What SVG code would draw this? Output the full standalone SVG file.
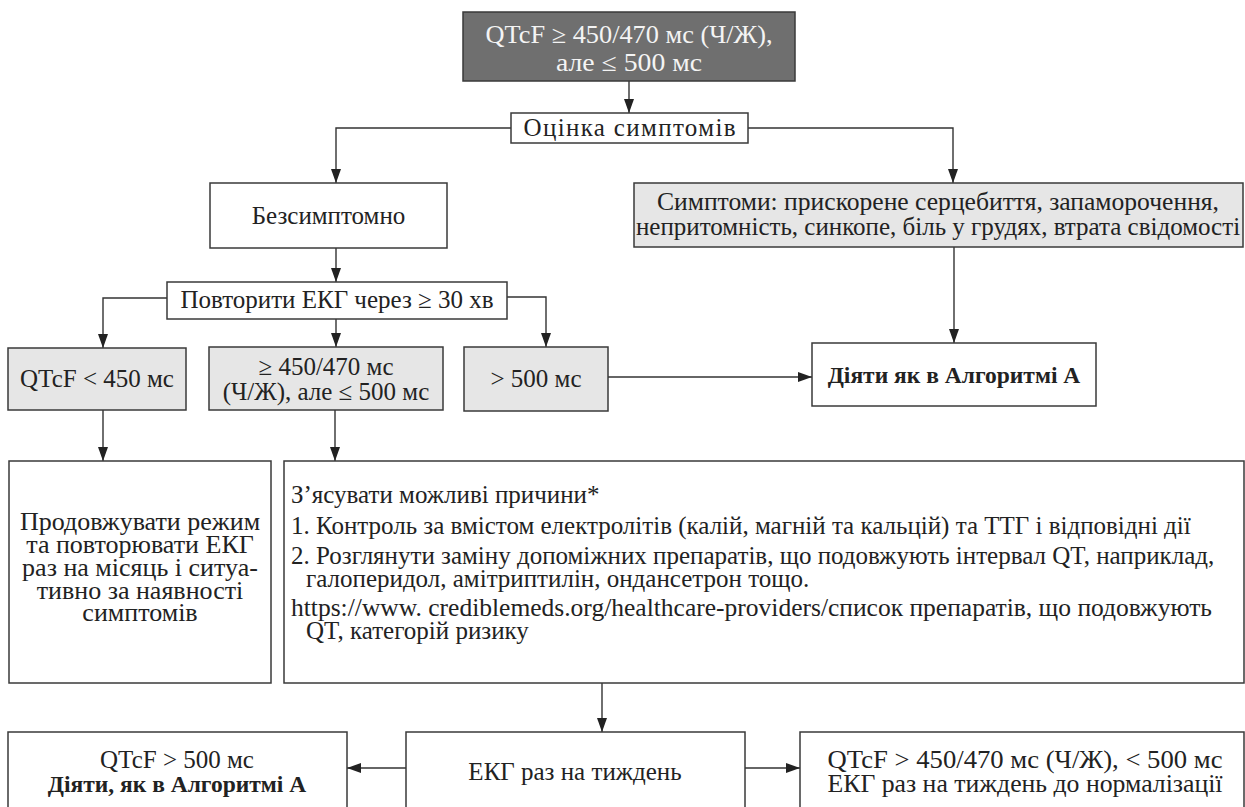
<svg xmlns="http://www.w3.org/2000/svg" width="1245" height="807" viewBox="0 0 1245 807">
<style>
.box{fill:#ffffff;stroke:#3a3a3a;stroke-width:1.5}
.gray{fill:#e6e6e6;stroke:#3a3a3a;stroke-width:1.5}
.dark{fill:#6f6f6f;stroke:#3a3a3a;stroke-width:1.5}
.t{font-family:'Liberation Serif','Times New Roman',serif;font-size:25px;fill:#222222}
.c{text-anchor:middle}
.w{fill:#f4f4f4}
.b{font-weight:bold;font-size:23.5px}
.l{font-size:26px}
.conn{fill:none;stroke:#333333;stroke-width:1.4}
</style>
<defs>
<marker id="ah" markerUnits="userSpaceOnUse" markerWidth="14" markerHeight="10" refX="14" refY="5" orient="auto">
<path d="M0,0 L14,5 L0,10 z" fill="#222222"/>
</marker>
</defs>
<rect width="1245" height="807" fill="#ffffff"/>
<g id="connectors">
<path class="conn" d="M629,81 V113" marker-end="url(#ah)"/>
<path class="conn" d="M511,128 H336 V183" marker-end="url(#ah)"/>
<path class="conn" d="M748,128 H953 V183" marker-end="url(#ah)"/>
<path class="conn" d="M336,248 V282" marker-end="url(#ah)"/>
<path class="conn" d="M167,298 H103 V348" marker-end="url(#ah)"/>
<path class="conn" d="M336,319 V347" marker-end="url(#ah)"/>
<path class="conn" d="M507,297 H546 V347" marker-end="url(#ah)"/>
<path class="conn" d="M954,247 V343" marker-end="url(#ah)"/>
<path class="conn" d="M608,377 H812" marker-end="url(#ah)"/>
<path class="conn" d="M103,410 V461" marker-end="url(#ah)"/>
<path class="conn" d="M335,410 V461" marker-end="url(#ah)"/>
<path class="conn" d="M602,683 V732" marker-end="url(#ah)"/>
<path class="conn" d="M406,768 H347" marker-end="url(#ah)"/>
<path class="conn" d="M745,768 H800" marker-end="url(#ah)"/>
</g>
<g id="n-top">
<rect class="dark" x="463" y="12" width="332" height="69"/>
<text class="t c w" x="629" y="43" textLength="287" lengthAdjust="spacingAndGlyphs">QTcF ≥ 450/470 мс (Ч/Ж),</text>
<text class="t c w" x="629" y="71" textLength="146" lengthAdjust="spacingAndGlyphs">але ≤ 500 мс</text>
</g>
<g id="n-assess">
<rect class="box" x="511" y="113" width="237" height="30"/>
<text class="t c" x="629.5" y="136" textLength="212" lengthAdjust="spacing">Оцінка симптомів</text>
</g>
<g id="n-asym">
<rect class="box" x="210" y="183" width="237" height="65"/>
<text class="t c" x="328.5" y="224">Безсимптомно</text>
</g>
<g id="n-symptoms">
<rect class="gray" x="634" y="183" width="609" height="64"/>
<text class="t c" x="938" y="210" textLength="562" lengthAdjust="spacingAndGlyphs">Симптоми: прискорене серцебиття, запаморочення,</text>
<text class="t c" x="938" y="235">непритомність, синкопе, біль у грудях, втрата свідомості</text>
</g>
<g id="n-repeat">
<rect class="box" x="167" y="282" width="340" height="37"/>
<text class="t c" x="337" y="308">Повторити ЕКГ через ≥ 30 хв</text>
</g>
<g id="n-lt450">
<rect class="gray" x="8" y="348" width="178" height="62"/>
<text class="t c" x="97" y="387">QTcF &lt; 450 мс</text>
</g>
<g id="n-mid">
<rect class="gray" x="209" y="347" width="234" height="63"/>
<text class="t c" x="326" y="375">≥ 450/470 мс</text>
<text class="t c" x="326" y="400">(Ч/Ж), але ≤ 500 мс</text>
</g>
<g id="n-gt500">
<rect class="gray" x="464" y="347" width="144" height="64"/>
<text class="t c" x="536" y="387">&gt; 500 мс</text>
</g>
<g id="n-algA">
<rect class="box" x="812" y="343" width="284" height="63"/>
<text class="t c b" x="954" y="383">Діяти як в Алгоритмі А</text>
</g>
<g id="n-continue">
<rect class="box" x="9" y="461" width="262" height="222"/>
<text class="t c l" x="140" y="530">Продовжувати режим</text>
<text class="t c l" x="140" y="553">та повторювати ЕКГ</text>
<text class="t c l" x="140" y="576">раз на місяць і ситуа-</text>
<text class="t c l" x="140" y="599">тивно за наявності</text>
<text class="t c l" x="140" y="621">симптомів</text>
</g>
<g id="n-causes">
<rect class="box" x="284" y="461" width="960" height="222"/>
<text class="t" x="291" y="503">З’ясувати можливі причини*</text>
<text class="t" x="291" y="534">1. Контроль за вмістом електролітів (калій, магній та кальцій) та ТТГ і відповідні дії</text>
<text class="t" x="291" y="564">2. Розглянути заміну допоміжних препаратів, що подовжують інтервал QT, наприклад,</text>
<text class="t" x="306" y="587">галоперидол, амітриптилін, ондансетрон тощо.</text>
<text class="t" x="291" y="616" textLength="921" lengthAdjust="spacingAndGlyphs">https://www. crediblemeds.org/healthcare-providers/список препаратів, що подовжують</text>
<text class="t" x="306" y="639">QT, категорій ризику</text>
</g>
<g id="n-gt500b">
<rect class="box" x="8" y="732" width="339" height="100"/>
<text class="t c" x="177" y="768">QTcF &gt; 500 мс</text>
<text class="t c b" x="177" y="792">Діяти, як в Алгоритмі А</text>
</g>
<g id="n-weekly">
<rect class="box" x="406" y="732" width="339" height="100"/>
<text class="t c" x="575" y="780">ЕКГ раз на тиждень</text>
</g>
<g id="n-norm">
<rect class="box" x="800" y="732" width="444" height="100"/>
<text class="t c" x="1025" y="768" textLength="395" lengthAdjust="spacingAndGlyphs">QTcF &gt; 450/470 мс (Ч/Ж), &lt; 500 мс</text>
<text class="t c" x="1025" y="792" textLength="395" lengthAdjust="spacingAndGlyphs">ЕКГ раз на тиждень до нормалізації</text>
</g>
</svg>
